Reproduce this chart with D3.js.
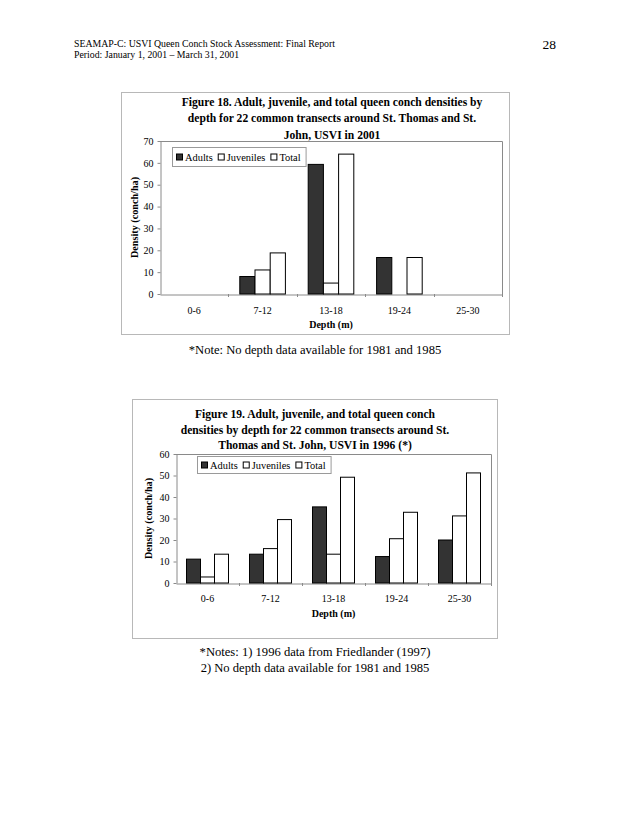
<!DOCTYPE html>
<html><head><meta charset="utf-8">
<script src="https://cdn.jsdelivr.net/npm/d3@7/dist/d3.min.js"></script>
<style>
body{margin:0;background:#fff;}
svg{display:block;}
text{font-family:"Liberation Serif","Times New Roman",serif;fill:#000;}
</style></head>
<body>
<svg id="page" width="630" height="815"></svg>
<script>
// ---- data ----
const categories = ["0-6", "7-12", "13-18", "19-24", "25-30"];
const seriesNames = ["Adults", "Juveniles", "Total"];

const fig18Adults    = [0, 8.0, 59.3, 16.7, 0];
const fig18Juveniles = [0, 11.0, 5.0, 0, 0];
const fig18Total     = [0, 18.8, 64.0, 16.7, 0];
const fig18Ticks     = [0, 10, 20, 30, 40, 50, 60, 70];

const fig19Adults    = [11.1, 13.4, 35.4, 12.3, 20.0];
const fig19Juveniles = [2.8, 16.0, 13.4, 20.6, 31.2];
const fig19Total     = [13.4, 29.5, 49.2, 32.9, 51.2];
const fig19Ticks     = [0, 10, 20, 30, 40, 50, 60];

const fig18Title = ["Figure 18. Adult, juvenile, and total queen conch densities by",
                    "depth for 22 common transects around St. Thomas and St.",
                    "John, USVI in 2001"];
const fig19Title = ["Figure 19. Adult, juvenile, and total queen conch",
                    "densities by depth for 22 common transects around St.",
                    "Thomas and St. John, USVI in 1996 (*)"];
const yTitle = "Density (conch/ha)";
const xTitle = "Depth (m)";

const colors = ["#333333", "#ffffff", "#ffffff"];

const svg = d3.select("#page");

// header
svg.append("text").attr("x", 74).attr("y", 47).style("font-size", "9.8px")
  .text("SEAMAP-C: USVI Queen Conch Stock Assessment: Final Report");
svg.append("text").attr("x", 74).attr("y", 58).style("font-size", "9.8px")
  .text("Period: January 1, 2001 \u2013 March 31, 2001");
svg.append("text").attr("x", 556).attr("y", 49).attr("text-anchor", "end").style("font-size", "13.5px")
  .text("28");

function drawChart(cfg) {
  const g = svg.append("g");
  // outer frame
  g.append("rect").attr("x", cfg.box[0] + 0.5).attr("y", cfg.box[1] + 0.5)
    .attr("width", cfg.box[2] - cfg.box[0]).attr("height", cfg.box[3] - cfg.box[1])
    .attr("fill", "#fff").attr("stroke", "#b8b8b8").attr("stroke-width", 1);

  // title
  cfg.title.forEach((t, i) => {
    g.append("text").attr("x", cfg.titleX).attr("y", cfg.titleY + i * cfg.titleStep)
      .attr("text-anchor", "middle").style("font-size", "11.6px").style("font-weight", "bold")
      .text(t);
  });

  const x0 = d3.scaleBand().domain(categories).range([cfg.plot[0], cfg.plot[2]]).paddingInner(0).paddingOuter(0);
  const bw = x0.bandwidth() / 4.5;
  const x1 = d3.scaleBand().domain(seriesNames)
    .range([x0.bandwidth() / 2 - 1.5 * bw, x0.bandwidth() / 2 + 1.5 * bw]).padding(0);
  const y = d3.scaleLinear().domain([0, d3.max(cfg.ticks)]).range([cfg.plot[3], cfg.plot[1]]);

  // plot area border (top/right)
  g.append("path")
    .attr("d", `M${cfg.plot[0]},${cfg.plot[1] + 0.5}H${cfg.plot[2] + 0.5}V${cfg.plot[3]}`)
    .attr("fill", "none").attr("stroke", "#8a8a8a");

  // y axis
  const ya = g.append("g").attr("transform", `translate(${cfg.plot[0] + 0.5},0)`)
    .call(d3.axisLeft(y).tickValues(cfg.ticks).tickSize(3).tickSizeOuter(0).tickPadding(4));
  ya.select(".domain").attr("stroke", "#8a8a8a");
  ya.selectAll(".tick line").attr("stroke", "#8a8a8a");
  ya.selectAll("text").style("font-size", "10px").style("font-family", '"Liberation Serif",serif');

  // x axis
  const xa = g.append("g").attr("transform", `translate(0,${cfg.plot[3] + 0.5})`)
    .call(d3.axisBottom(x0).tickSize(0).tickSizeOuter(0).tickPadding(cfg.xPad));
  xa.select(".domain").attr("stroke", "#8a8a8a");
  xa.selectAll("text").style("font-size", "10px").style("font-family", '"Liberation Serif",serif');
  // category boundary ticks
  g.selectAll(".ctick").data(categories.slice(1).concat(["_end"])).enter().append("line")
    .attr("x1", (d, i) => Math.round(cfg.plot[0] + (i + 1) * x0.bandwidth()) + 0.5)
    .attr("x2", (d, i) => Math.round(cfg.plot[0] + (i + 1) * x0.bandwidth()) + 0.5)
    .attr("y1", cfg.plot[3]).attr("y2", cfg.plot[3] + 3)
    .attr("stroke", "#8a8a8a");

  // bars
  seriesNames.forEach((s, si) => {
    const vals = cfg.series[si];
    g.append("g").selectAll("rect")
      .data(categories.map((c, i) => ({ c, v: vals[i] })).filter(d => d.v > 0))
      .enter().append("rect")
      .attr("x", d => x0(d.c) + x1(s))
      .attr("y", d => y(d.v))
      .attr("width", x1.bandwidth())
      .attr("height", d => y(0) - y(d.v))
      .attr("fill", colors[si]).attr("stroke", "#000").attr("stroke-width", 1);
  });

  // axis titles
  g.append("text").attr("transform", `translate(${cfg.yTitleX},${(cfg.plot[1] + cfg.plot[3]) / 2}) rotate(-90)`)
    .attr("text-anchor", "middle").style("font-size", "10.2px").style("font-weight", "bold").text(yTitle);
  g.append("text").attr("x", (cfg.plot[0] + cfg.plot[2]) / 2).attr("y", cfg.xTitleY)
    .attr("text-anchor", "middle").style("font-size", "10px").style("font-weight", "bold").text(xTitle);

  // legend
  const L = cfg.legend;
  const lg = g.append("g");
  const frame = lg.append("rect").attr("x", L[0] + 0.5).attr("y", L[1] + 0.5).attr("height", L[2])
    .attr("fill", "#fff").attr("stroke", "#9a9a9a");
  let lx = L[0] + 4;
  seriesNames.forEach((s, si) => {
    lg.append("rect").attr("x", lx + 0.5).attr("y", L[1] + L[2] / 2 - 2.5).attr("width", 6).attr("height", 6)
      .attr("fill", colors[si]).attr("stroke", "#000");
    const t = lg.append("text").attr("x", lx + 9).attr("y", L[1] + L[2] / 2 + 4)
      .style("font-size", "10.4px").text(s);
    lx += 9 + t.node().getComputedTextLength() + 5;
  });
  frame.attr("width", lx - L[0]);

  // notes
  cfg.notes.forEach((n, i) => {
    g.append("text").attr("x", 315).attr("y", cfg.notesY + i * 16).attr("text-anchor", "middle")
      .style("font-size", "12.6px").text(n);
  });
}

drawChart({
  box: [121, 92, 509, 334],
  plot: [160, 141, 502, 294],
  title: fig18Title, titleX: 332, titleY: 106, titleStep: 16.3,
  ticks: fig18Ticks,
  series: [fig18Adults, fig18Juveniles, fig18Total],
  yTitleX: 137.5, xTitleY: 328, xPad: 12,
  legend: [172, 147, 19],
  notes: ["*Note: No depth data available for 1981 and 1985"], notesY: 354
});

drawChart({
  box: [132, 399, 497, 638],
  plot: [176, 454, 491, 583],
  title: fig19Title, titleX: 315, titleY: 418, titleStep: 15.5,
  ticks: fig19Ticks,
  series: [fig19Adults, fig19Juveniles, fig19Total],
  yTitleX: 152, xTitleY: 617, xPad: 11,
  legend: [197, 456, 17],
  notes: ["*Notes: 1) 1996 data from Friedlander (1997)", "2) No depth data available for 1981 and 1985"], notesY: 656
});
</script>
</body></html>
